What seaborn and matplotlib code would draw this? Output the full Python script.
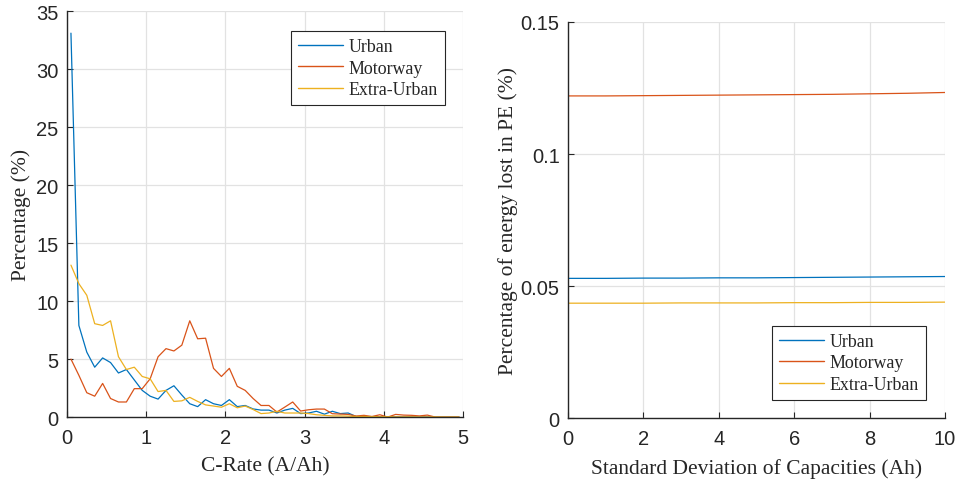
import numpy as np
import pandas as pd
import matplotlib
matplotlib.use("Agg")
import matplotlib.pyplot as plt
import seaborn as sns

# ---------------------------------------------------------
# data
# ---------------------------------------------------------
c_rate = [0.05, 0.15, 0.25, 0.35, 0.45, 0.55, 0.65, 0.75, 0.85, 0.95,
          1.05, 1.15, 1.25, 1.35, 1.45, 1.55, 1.65, 1.75, 1.85, 1.95,
          2.05, 2.15, 2.25, 2.35, 2.45, 2.55, 2.65, 2.75, 2.85, 2.95,
          3.05, 3.15, 3.25, 3.35, 3.45, 3.55, 3.65, 3.75, 3.85, 3.95,
          4.05, 4.15, 4.25, 4.35, 4.45, 4.55, 4.65, 4.75, 4.85, 4.95]

urban = [33.1, 7.9, 5.6, 4.3, 5.1, 4.7, 3.8, 4.1, 3.2, 2.3,
         1.8, 1.55, 2.3, 2.7, 1.9, 1.15, 0.9, 1.5, 1.15, 1.0,
         1.5, 0.9, 1.0, 0.7, 0.6, 0.6, 0.35, 0.6, 0.75, 0.3,
         0.35, 0.5, 0.25, 0.5, 0.3, 0.35, 0.05, 0.03, 0.03, 0.02,
         0.02, 0.02, 0.01, 0.01, 0.01, 0.01, 0.0, 0.0, 0.0, 0.0]

motorway = [5.0, 3.6, 2.1, 1.8, 2.9, 1.6, 1.3, 1.3, 2.45, 2.45,
            3.3, 5.2, 5.9, 5.7, 6.2, 8.3, 6.75, 6.8, 4.2, 3.5,
            4.2, 2.65, 2.3, 1.6, 1.0, 1.0, 0.43, 0.86, 1.3, 0.52,
            0.63, 0.69, 0.69, 0.29, 0.26, 0.23, 0.09, 0.15, 0.05, 0.2,
            0.0, 0.23, 0.17, 0.15, 0.1, 0.17, 0.0, 0.0, 0.0, 0.0]

extra_urban = [13.1, 11.5, 10.5, 8.05, 7.9, 8.3, 5.2, 4.1, 4.3, 3.5,
               3.3, 2.2, 2.3, 1.35, 1.4, 1.7, 1.35, 1.05, 0.95, 0.85,
               1.15, 0.8, 0.95, 0.65, 0.3, 0.35, 0.5, 0.35, 0.35, 0.35,
               0.3, 0.2, 0.15, 0.1, 0.1, 0.08, 0.05, 0.05, 0.04, 0.03,
               0.03, 0.02, 0.02, 0.02, 0.01, 0.01, 0.01, 0.0, 0.0, 0.0]

std_cap = [0, 1, 2, 3, 4, 5, 6, 7, 8, 9, 10]
loss_urban = [0.0529, 0.0529, 0.0530, 0.0530, 0.0531, 0.0531, 0.0532,
              0.0533, 0.0534, 0.0535, 0.0536]
loss_motorway = [0.1220, 0.1220, 0.1221, 0.1222, 0.1223, 0.1224, 0.1225,
                 0.1226, 0.1228, 0.1230, 0.1233]
loss_extra = [0.0435, 0.0435, 0.0435, 0.0436, 0.0436, 0.0436, 0.0437,
              0.0437, 0.0438, 0.0438, 0.0439]

labels = ['Urban', 'Motorway', 'Extra-Urban']
colors = ['#0072BD', '#D95319', '#EDB120']

df_rate = pd.DataFrame({
    'x': c_rate * 3,
    'y': urban + motorway + extra_urban,
    'cycle': [labels[0]] * len(c_rate) + [labels[1]] * len(c_rate) + [labels[2]] * len(c_rate),
})
df_loss = pd.DataFrame({
    'x': std_cap * 3,
    'y': loss_urban + loss_motorway + loss_extra,
    'cycle': [labels[0]] * len(std_cap) + [labels[1]] * len(std_cap) + [labels[2]] * len(std_cap),
})

# ---------------------------------------------------------
# style
# ---------------------------------------------------------
sns.set_theme(style="whitegrid")
plt.rcParams['font.family'] = ['Liberation Sans', 'DejaVu Sans']
plt.rcParams['axes.edgecolor'] = '#262626'
plt.rcParams['grid.color'] = '#e2e2e2'
plt.rcParams['grid.linewidth'] = 0.9

serif = ['Liberation Serif', 'DejaVu Serif']

fig = plt.figure(figsize=(9.57, 4.85), dpi=100)
ax1 = fig.add_axes([0.070, 0.138, 0.4138, 0.837])
ax2 = fig.add_axes([0.5935, 0.136, 0.394, 0.8166])


def style_axes(ax):
    for side in ['top', 'right']:
        ax.spines[side].set_visible(False)
    for side in ['left', 'bottom']:
        ax.spines[side].set_visible(True)
        ax.spines[side].set_linewidth(1.0)
        ax.spines[side].set_color('#262626')
    ax.tick_params(direction='in', length=4, width=0.8, color='#262626',
                   labelsize=14.5, labelcolor='#262626', left=True, bottom=True,
                   top=False, right=False)
    ax.tick_params(axis='x', pad=8)
    ax.tick_params(axis='y', pad=6)
    ax.grid(True, color='#e2e2e2', linewidth=0.9)
    ax.set_axisbelow(True)


def add_legend(ax, loc, anchor):
    leg = ax.legend(loc=loc, bbox_to_anchor=anchor, borderaxespad=0, frameon=True,
                    fancybox=False, handlelength=2.5, handletextpad=0.3,
                    borderpad=0.4, labelspacing=0.25,
                    prop={'family': serif, 'size': 12.9})
    leg.get_frame().set_edgecolor('#262626')
    leg.get_frame().set_linewidth(0.8)
    leg.get_frame().set_alpha(1)
    for h in leg.get_lines():
        h.set_linewidth(1.0)


# left: C-rate distribution
sns.lineplot(data=df_rate, x='x', y='y', hue='cycle', hue_order=labels,
             palette=colors, linewidth=0.9, ax=ax1)
ax1.set_xlim(0, 5)
ax1.set_ylim(0, 35)
ax1.set_xticks([0, 1, 2, 3, 4, 5])
ax1.set_yticks([0, 5, 10, 15, 20, 25, 30, 35])
style_axes(ax1)
ax1.set_xlabel('C-Rate (A/Ah)', family=serif, fontsize=15.5, color='#262626')
ax1.set_ylabel('Percentage (%)', family=serif, fontsize=15.5, color='#262626')
ax1.xaxis.set_label_coords(0.5, -0.097)
ax1.yaxis.set_label_coords(-0.09, 0.5)
add_legend(ax1, 'upper right', (0.9545, 0.951))

# right: energy lost vs capacity spread
sns.lineplot(data=df_loss, x='x', y='y', hue='cycle', hue_order=labels,
             palette=colors, linewidth=0.9, ax=ax2)
ax2.set_xlim(0, 10)
ax2.set_ylim(0, 0.15)
ax2.set_xticks([0, 2, 4, 6, 8, 10])
ax2.set_yticks([0, 0.05, 0.1, 0.15])
ax2.set_yticklabels(['0', '0.05', '0.1', '0.15'])
style_axes(ax2)
ax2.set_xlabel('Standard Deviation of Capacities (Ah)', family=serif, fontsize=15.5,
               color='#262626')
ax2.set_ylabel('Percentage of energy lost in PE (%)', family=serif, fontsize=15.5,
               color='#262626')
ax2.xaxis.set_label_coords(0.5, -0.102)
ax2.yaxis.set_label_coords(-0.133, 0.5)
add_legend(ax2, 'lower right', (0.949, 0.0455))

fig.savefig('out.png', dpi=100)
